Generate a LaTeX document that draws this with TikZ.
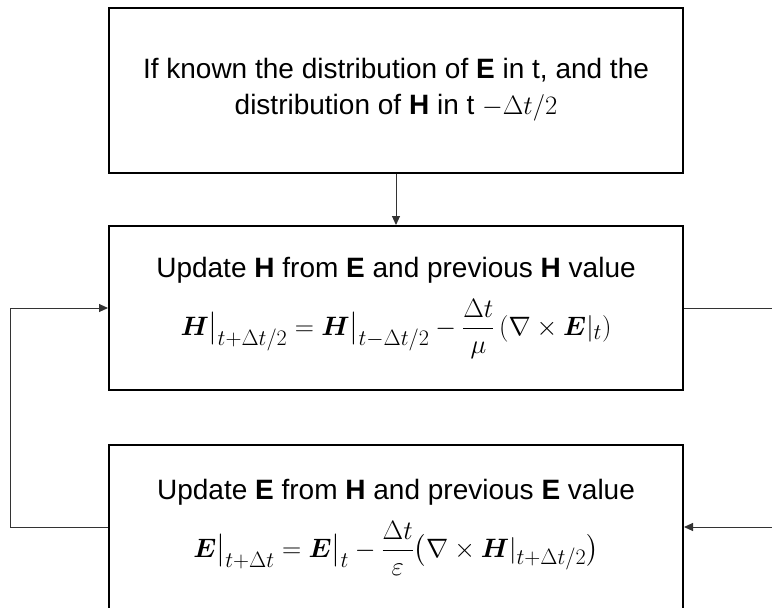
\documentclass[tikz,border=0pt]{standalone}
\usepackage{amsmath}
\usepackage{bm}
\usepackage{graphicx}
\usepackage{fontspec}
\setmainfont{Liberation Sans}
\usetikzlibrary{arrows.meta}
\tikzset{
  box/.style={draw=black, line width=2pt, minimum width=574pt, minimum height=164pt,
    align=center, inner sep=0pt, font=\fontsize{28}{35}\selectfont},
  conn/.style={draw=black!80, line width=1pt},
  arr/.style={conn, -{Triangle[length=9pt,width=8pt]}}
}
\newcommand{\eqbig}[1]{\scalebox{1.07}{#1}}
\begin{document}
\begin{tikzpicture}[x=1pt,y=-1pt]
\useasboundingbox (0,0) rectangle (772,608);
\begin{scope}
\clip (0,0) rectangle (772,608);
\node[box, minimum height=165pt] (init) at (396,90)
  {If known the distribution of \textbf{E} in t, and the\\[1pt]
   distribution of \textbf{H} in t \eqbig{$-\Delta t/2$}};
\node[box] (hupd) at (396,308)
  {Update \textbf{H} from \textbf{E} and previous \textbf{H} value\\[15pt]
   \eqbig{$\bm{H}\big|_{t+\Delta t/2}=\bm{H}\big|_{t-\Delta t/2}-\dfrac{\Delta t}{\mu}\left(\nabla\times\bm{E}|_t\right)$}};
\node[box] (eupd) at (396,527)
  {Update \textbf{E} from \textbf{H} and previous \textbf{E} value\\[15pt]
   \eqbig{$\bm{E}\big|_{t+\Delta t}=\bm{E}\big|_{t}-\dfrac{\Delta t}{\varepsilon}\big(\nabla\times\bm{H}|_{t+\Delta t/2}\big)$}};
\coordinate (lc) at (10,0);
\coordinate (rtop) at (772,308);
\coordinate (rbot) at (772,527);
\draw[arr] (init.south) -- (hupd.north);
\draw[arr] (eupd.west) -- (lc |- eupd.west) -- (lc |- hupd.west) -- (hupd.west);
\draw[conn] (hupd.east) -- (rtop);
\draw[arr] (rbot) -- (eupd.east);
\end{scope}
\end{tikzpicture}
\end{document}
